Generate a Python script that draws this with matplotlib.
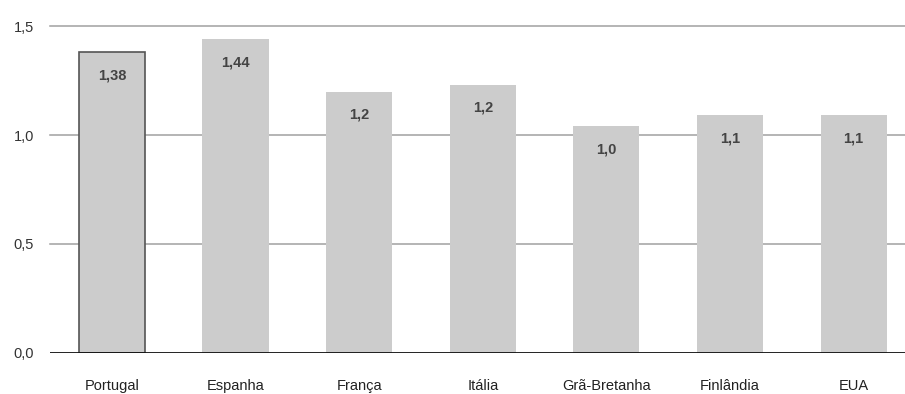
import matplotlib
matplotlib.use('Agg')
import matplotlib.pyplot as plt

# dados
paises = ['Portugal', 'Espanha', 'França', 'Itália', 'Grã-Bretanha', 'Finlândia', 'EUA']
valores = [1.38, 1.44, 1.20, 1.23, 1.04, 1.09, 1.09]
rotulos = ['1,38', '1,44', '1,2', '1,2', '1,0', '1,1', '1,1']
yticks = [0.0, 0.5, 1.0, 1.5]
yticklabels = ['0,0', '0,5', '1,0', '1,5']

plt.rcParams['font.family'] = ['Liberation Sans Narrow', 'Liberation Sans', 'DejaVu Sans']

fig = plt.figure(figsize=(9.05, 3.94), dpi=100)
ax = fig.add_axes([50 / 905, 41.3 / 394, 865.5 / 905, 326.5 / 394])

x = range(len(paises))
bars = ax.bar(x, valores, width=0.535, color='#cccccc', zorder=2)
bars[0].set_edgecolor('#555555')
bars[0].set_linewidth(1.2)

for i in x:
    ax.annotate(rotulos[i], (i, valores[i]), xytext=(0, -23), textcoords='offset pixels',
                ha='center', va='center', fontsize=10.5, fontweight='bold', color='#444444', zorder=3)

ax.set_xlim(-0.5, len(paises) - 0.5)
ax.set_ylim(0, 1.5)
ax.set_yticks(yticks)
ax.set_yticklabels(yticklabels, fontsize=10.5, color='#333333')
ax.set_xticks(list(x))
ax.set_xticklabels(paises, fontsize=10.5, color='#222222')
ax.tick_params(axis='both', length=0)
ax.tick_params(axis='y', pad=11.5)
ax.tick_params(axis='x', pad=19)

for y in yticks[1:]:
    ax.axhline(y, color='#a0a0a0', lw=1.1, zorder=1, clip_on=False)
ax.axhline(0, color='#111111', lw=1.3, zorder=3)

for s in ax.spines.values():
    s.set_visible(False)

fig.savefig('out.png', dpi=100)
